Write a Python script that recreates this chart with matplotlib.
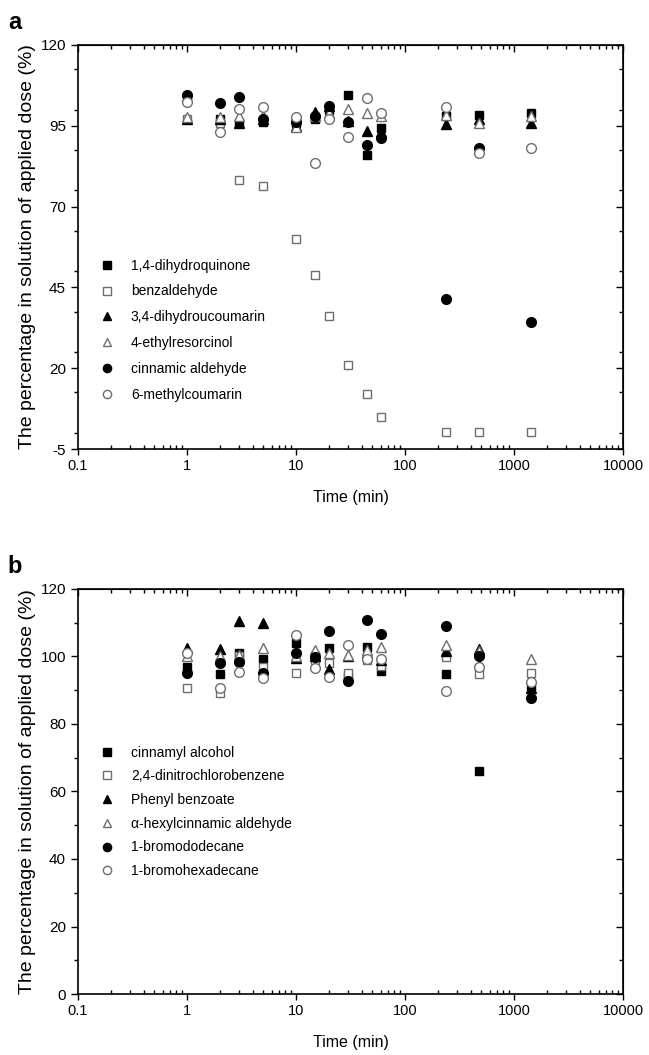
import matplotlib
matplotlib.use("Agg")
import matplotlib.pyplot as plt
from matplotlib.ticker import FixedLocator, MultipleLocator, NullFormatter, LogLocator, FuncFormatter

plt.rcParams['font.family'] = ['Liberation Sans', 'DejaVu Sans']
plt.rcParams['axes.unicode_minus'] = False

# sampling times (min)
time_min = [1, 2, 3, 5, 10, 15, 20, 30, 45, 60, 240, 480, 1440]

# panel a
labels_a = ['1,4-dihydroquinone', 'benzaldehyde', '3,4-dihydroucoumarin',
            '4-ethylresorcinol', 'cinnamic aldehyde', '6-methylcoumarin']
dihydroquinone = [104, 97, 95.9, 96.2, 96, 97.1, 100, 104.5, 86, 94.3, 98, 98.3, 98.9]
benzaldehyde = [97, 95.9, 78.2, 76.4, 60, 48.8, 36.2, 21, 12, 4.9, 0.3, 0.3, 0.3]
dihydrocoumarin = [97, 97, 96, 97, 95, 99.3, 101, 96.5, 93.4, 93, 95.5, 97, 96]
ethylresorcinol = [97.7, 97.7, 98, 98, 94.7, 98, 99, 100.2, 98.9, 98, 98.3, 95.9, 98]
cinnamic_aldehyde = [104.5, 102, 104, 97, 96.2, 98, 101.1, 96.2, 89, 91.2, 41.5, 88.1, 34.3]
methylcoumarin = [102.4, 93.1, 100.2, 100.8, 97.7, 83.5, 97.1, 91.5, 103.6, 98.9, 100.8, 86.6, 88.1]

# panel b
labels_b = ['cinnamyl alcohol', '2,4-dinitrochlorobenzene', 'Phenyl benzoate',
            '\u03b1-hexylcinnamic aldehyde', '1-bromododecane', '1-bromohexadecane']
cinnamyl_alcohol = [97, 94.8, 101, 99.2, 104, 100, 102.5, 94, 102.8, 95.7, 94.8, 66, 91]
dinitrochlorobenzene = [90.7, 89.2, 100, 97, 95.1, 99, 98, 95.1, 99, 97.2, 99.9, 94.8, 95.1]
phenyl_benzoate = [102.5, 102.2, 110.5, 109.9, 99.6, 100, 96.3, 100, 101, 99, 101.5, 102.2, 90.5]
hexylcinnamic = [100, 100, 100.5, 102.5, 100, 101.9, 101, 100.4, 102, 102.8, 103.4, 101.5, 99.2]
bromododecane = [95.1, 98, 98.4, 95.1, 101, 99.9, 107.6, 92.7, 110.8, 106.7, 109, 100.1, 87.7]
bromohexadecane = [101, 90.7, 95.4, 93.6, 106.4, 96.6, 94, 103.4, 99.2, 99.2, 89.8, 96.9, 92.4]

yticks_a = [-5, 20, 45, 70, 95, 120]
yticks_b = [0, 20, 40, 60, 80, 100, 120]
xticks = [0.1, 1, 10, 100, 1000, 10000]

GREY = '#6e6e6e'
styles = [
    dict(marker='s', ms=6.0, mfc='black', mec='black'),
    dict(marker='s', ms=6.0, mfc='white', mec=GREY),
    dict(marker='^', ms=7.5, mfc='black', mec='black'),
    dict(marker='^', ms=7.5, mfc='white', mec=GREY),
    dict(marker='o', ms=7.0, mfc='black', mec='black'),
    dict(marker='o', ms=7.0, mfc='white', mec=GREY),
]

fig = plt.figure(figsize=(6.49, 10.55), dpi=100)
ax_a = fig.add_axes([0.120, 0.5744, 0.840, 0.383])
ax_b = fig.add_axes([0.120, 0.0578, 0.840, 0.384])


def draw_panel(ax, series, labels, yticks, ylim, ystep, leg_y, leg_space):
    for vals, lab, st in zip(series, labels, styles):
        ax.plot(time_min, vals, linestyle='none', mew=1.0, label=lab, **st)
    ax.set_xscale('log')
    ax.set_xlim(0.1, 10000)
    ax.set_ylim(*ylim)
    ax.xaxis.set_major_locator(FixedLocator(xticks))
    ax.xaxis.set_major_formatter(FuncFormatter(lambda v, p: '%g' % v))
    ax.xaxis.set_minor_locator(LogLocator(base=10, subs=range(2, 10)))
    ax.xaxis.set_minor_formatter(NullFormatter())
    ax.yaxis.set_major_locator(FixedLocator(yticks))
    ax.yaxis.set_minor_locator(MultipleLocator(ystep))
    ax.tick_params(axis='y', which='both', direction='out', labelsize=11, width=1)
    ax.tick_params(axis='y', which='major', length=5)
    ax.tick_params(axis='y', which='minor', length=3)
    ax.tick_params(axis='x', which='major', direction='out', length=4, width=1, labelsize=10.5)
    ax.tick_params(axis='x', which='minor', direction='in', length=3, width=1)
    for s in ax.spines.values():
        s.set_linewidth(1.2)

    top = ax.secondary_xaxis('top')
    top.xaxis.set_major_locator(FixedLocator(xticks))
    top.xaxis.set_minor_locator(LogLocator(base=10, subs=range(2, 10)))
    top.xaxis.set_major_formatter(NullFormatter())
    top.xaxis.set_minor_formatter(NullFormatter())
    top.tick_params(which='major', direction='in', length=5, width=1)
    top.tick_params(which='minor', direction='in', length=3, width=1)

    right = ax.secondary_yaxis('right')
    right.yaxis.set_major_locator(FixedLocator(yticks))
    right.yaxis.set_minor_locator(MultipleLocator(ystep))
    right.yaxis.set_major_formatter(NullFormatter())
    right.tick_params(which='major', direction='in', length=5, width=1)
    right.tick_params(which='minor', direction='in', length=3, width=1)

    ax.set_xlabel('Time (min)', fontsize=11.5, labelpad=12)
    ax.set_ylabel('The percentage in solution of applied dose (%)', fontsize=14, labelpad=3)
    ax.legend(loc='upper left', bbox_to_anchor=(0.031, leg_y), borderaxespad=0,
              frameon=False, fontsize=10, handlelength=1.0, handletextpad=1.2,
              labelspacing=leg_space, borderpad=0.4, markerscale=0.85)


draw_panel(ax_a, [dihydroquinone, benzaldehyde, dihydrocoumarin, ethylresorcinol,
                  cinnamic_aldehyde, methylcoumarin],
           labels_a, yticks_a, (-5, 120), 12.5, 0.485, 0.85)
draw_panel(ax_b, [cinnamyl_alcohol, dinitrochlorobenzene, phenyl_benzoate,
                  hexylcinnamic, bromododecane, bromohexadecane],
           labels_b, yticks_b, (0, 120), 10, 0.627, 0.7)

fig.text(0.012, 0.979, 'a', fontsize=17, fontweight='bold', va='center')
fig.text(0.012, 0.4635, 'b', fontsize=17, fontweight='bold', va='center')

fig.savefig('out.png', dpi=100)
